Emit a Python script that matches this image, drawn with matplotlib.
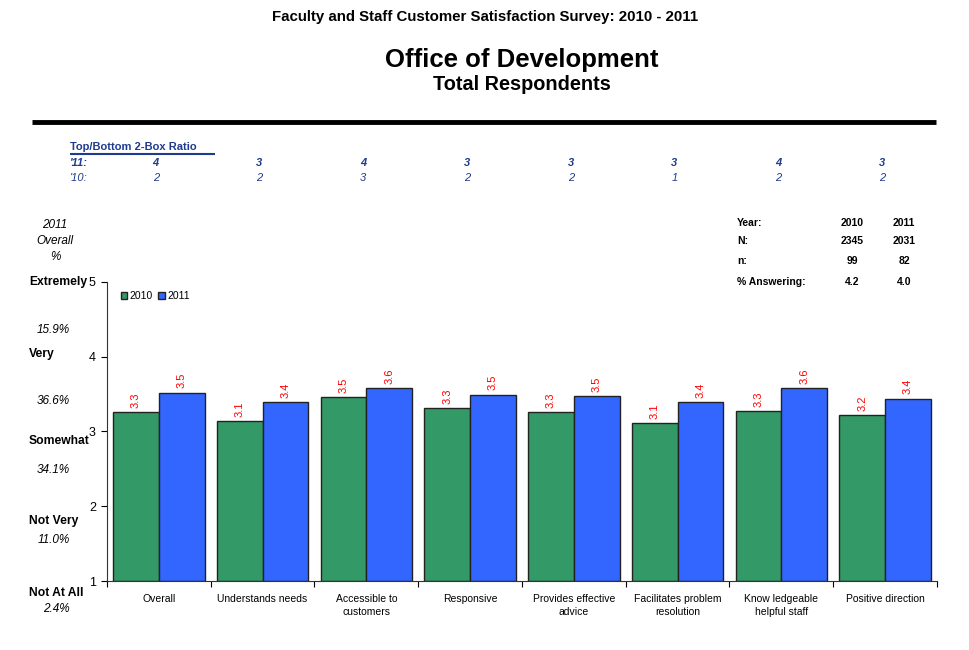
import matplotlib.pyplot as plt
import numpy as np
from matplotlib.patches import Patch
from matplotlib.lines import Line2D

plt.rcParams['font.family'] = ['Liberation Sans', 'DejaVu Sans']

categories = ['Overall', 'Understands needs', 'Accessible to\ncustomers', 'Responsive',
              'Provides effective\nadvice', 'Facilitates problem\nresolution',
              'Know ledgeable\nhelpful staff', 'Positive direction']
vals_2010 = [3.26, 3.14, 3.46, 3.31, 3.26, 3.11, 3.27, 3.22]
vals_2011 = [3.52, 3.39, 3.58, 3.49, 3.47, 3.39, 3.58, 3.44]
ratio_11 = [4, 3, 4, 3, 3, 3, 4, 3]
ratio_10 = [2, 2, 3, 2, 2, 1, 2, 2]

scale_labels = ['Not At All', 'Not Very', 'Somewhat', 'Very', 'Extremely']
scale_pcts = ['2.4%', '11.0%', '34.1%', '36.6%', '15.9%']

table_rows = ['Year:', 'N:', 'n:', '% Answering:']
table_2010 = ['2010', '2345', '99', '4.2']
table_2011 = ['2011', '2031', '82', '4.0']

green = '#339966'
blue = '#3366FF'
navy = '#1F3A8F'

fig = plt.figure(figsize=(9.7, 6.5), dpi=100)
ax = fig.add_axes([107 / 970, 1 - 581 / 650, 830 / 970, 299 / 650])

x = np.arange(len(categories))
w = 0.44
b1 = ax.bar(x - w / 2, np.array(vals_2010) - 1, w, bottom=1, color=green,
            edgecolor='#222222', linewidth=1, label='2010')
b2 = ax.bar(x + w / 2, np.array(vals_2011) - 1, w, bottom=1, color=blue,
            edgecolor='#222222', linewidth=1, label='2011')
for bars, vals in ((b1, vals_2010), (b2, vals_2011)):
    for r, v in zip(bars, vals):
        ax.text(r.get_x() + r.get_width() / 2, v + 0.06, '%.1f' % v, rotation=90,
                ha='center', va='bottom', color='#FF0000', fontsize=8)

ax.set_xlim(-0.5, len(categories) - 0.5)
ax.set_ylim(1, 5)
ax.set_yticks([1, 2, 3, 4, 5])
ax.tick_params(axis='y', labelsize=9, length=4, direction='out', pad=4)
ax.set_xticks(np.arange(len(categories) + 1) - 0.5)
ax.set_xticklabels([])
ax.set_xticks(x, minor=True)
ax.set_xticklabels(categories, minor=True, fontsize=7.5, linespacing=1.45)
ax.tick_params(axis='x', which='major', length=4, direction='out')
ax.tick_params(axis='x', which='minor', length=0, pad=9)
for s in ('top', 'right'):
    ax.spines[s].set_visible(False)
ax.spines['left'].set_color('#333333')
ax.spines['bottom'].set_color('#333333')

handles = [Patch(facecolor=green, edgecolor='#222222', label='2010'),
           Patch(facecolor=blue, edgecolor='#222222', label='2011')]
ax.legend(handles=handles, loc='upper left', bbox_to_anchor=(0.005, 1.0), ncol=2,
          frameon=False, fontsize=7.5, handlelength=0.6, handleheight=0.6,
          handletextpad=0.3, columnspacing=0.5)

# titles
fig.text(485 / 970, 1 - 17 / 650, 'Faculty and Staff Customer Satisfaction Survey: 2010 - 2011',
         ha='center', va='center', fontsize=10.8, fontweight='bold')
fig.text(522 / 970, 1 - 60 / 650, 'Office of Development', ha='center', va='center',
         fontsize=18.5, fontweight='bold')
fig.text(522 / 970, 1 - 85 / 650, 'Total Respondents', ha='center', va='center',
         fontsize=14.3, fontweight='bold')
fig.add_artist(Line2D([32 / 970, 936 / 970], [1 - 122 / 650] * 2, color='black', lw=3.5,
                      solid_capstyle='butt'))

# top/bottom 2-box ratio
fig.text(70 / 970, 1 - 147 / 650, 'Top/Bottom 2-Box Ratio', ha='left', va='center',
         fontsize=8, fontweight='bold', color=navy)
fig.add_artist(Line2D([70 / 970, 215 / 970], [1 - 153.5 / 650] * 2, color=navy, lw=1.5,
                      solid_capstyle='butt'))
fig.text(70 / 970, 1 - 163 / 650, "'11:", ha='left', va='center', fontsize=8,
         fontweight='bold', style='italic', color=navy)
fig.text(70 / 970, 1 - 178 / 650, "'10:", ha='left', va='center', fontsize=8,
         style='italic', color=navy)
trans = ax.get_xaxis_transform()
y11 = (1 - 163 / 650 - (1 - 581 / 650)) / (299 / 650)
y10 = (1 - 178 / 650 - (1 - 581 / 650)) / (299 / 650)
for i in range(len(categories)):
    ax.text(x[i] - 0.03, y11, str(ratio_11[i]), transform=trans, ha='center', va='center',
            fontsize=8, fontweight='bold', style='italic', color=navy, clip_on=False)
    ax.text(x[i] - 0.03, y10, str(ratio_10[i]), transform=trans, ha='center', va='center',
            fontsize=8, style='italic', color=navy, clip_on=False)

# left scale labels
fig.text(55 / 970, 1 - 241 / 650, '2011\nOverall\n%', ha='center', va='center',
         fontsize=8.5, style='italic', linespacing=1.45)
label_y = [593, 521, 441, 354, 282]
pct_y = [609, 540, 470, 401, 330]
for lab, ly, p, py in zip(scale_labels, label_y, scale_pcts, pct_y):
    fig.text(29 / 970, 1 - ly / 650, lab, ha='left', va='center', fontsize=8.7,
             fontweight='bold')
    fig.text(70 / 970, 1 - py / 650, p, ha='right', va='center', fontsize=8.5,
             style='italic')

# right table
row_y = [223, 241, 261, 282]
for lab, a, b, ry in zip(table_rows, table_2010, table_2011, row_y):
    fig.text(737 / 970, 1 - ry / 650, lab, ha='left', va='center', fontsize=7.5,
             fontweight='bold')
    fig.text(852 / 970, 1 - ry / 650, a, ha='center', va='center', fontsize=7.5,
             fontweight='bold')
    fig.text(904 / 970, 1 - ry / 650, b, ha='center', va='center', fontsize=7.5,
             fontweight='bold')

fig.savefig('out.png', dpi=100)
